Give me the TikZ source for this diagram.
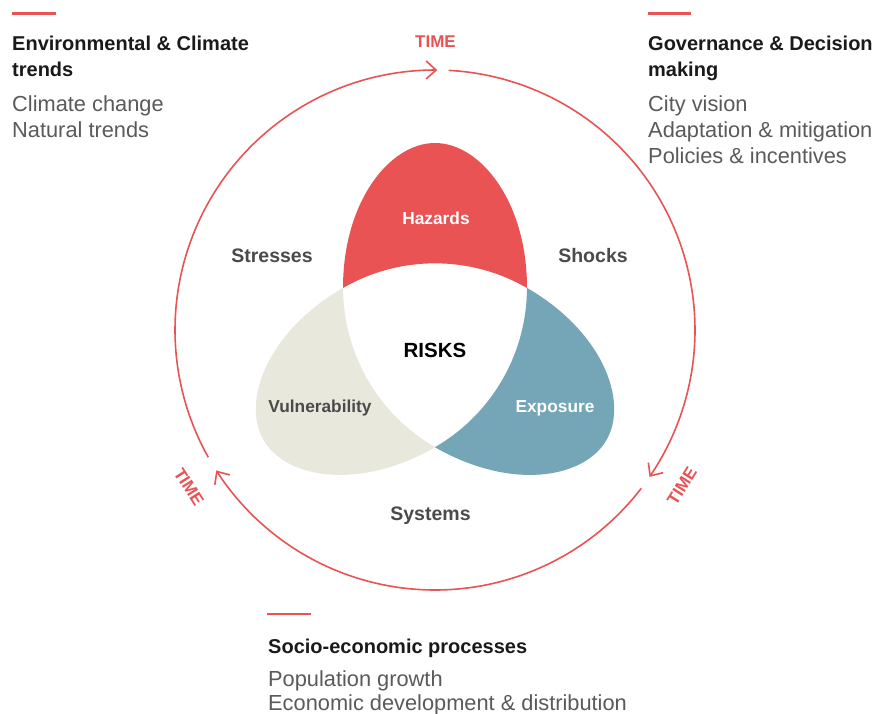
\documentclass[tikz,border=0pt]{standalone}
\usepackage{fontspec}
\setmainfont{Liberation Sans}
\usetikzlibrary{arrows.meta}
\definecolor{tred}{HTML}{E95354}
\definecolor{tbeige}{HTML}{E9E8DD}
\definecolor{tblue}{HTML}{74A6B7}
\definecolor{thead}{HTML}{1A1A1A}
\definecolor{tbody}{HTML}{5A5A5A}
\definecolor{tlabel}{HTML}{4A4A4A}
\begin{document}
\begin{tikzpicture}[x=1pt,y=-1pt,
  head/.style={anchor=base west, inner sep=0pt, font=\fontsize{20}{24}\selectfont\bfseries, text=thead},
  body/.style={anchor=base west, inner sep=0pt, font=\fontsize{21.8}{25}\selectfont, text=tbody},
  bar/.style={draw=tred, line width=2.6pt},
  ring/.style={draw=tred, line width=1.6pt, -{Straight Barb[length=10pt,width=18pt]}},
  zone/.style={anchor=base, inner sep=0pt, font=\fontsize{19.5}{23}\selectfont\bfseries, text=tlabel},
  petaltext/.style={anchor=base, inner sep=0pt, font=\fontsize{17.3}{20}\selectfont\bfseries},
  timelbl/.style={inner sep=0pt, font=\fontsize{17}{20}\selectfont\bfseries, text=tred}
]
\useasboundingbox[fill=white] (0,0) rectangle (885,713);

% petals
\begin{scope}[shift={(435,341)}]
  \fill[tred] (-92,-53) .. controls (-92,-140) and (-45,-198) .. (0,-198)
    .. controls (45,-198) and (92,-140) .. (92,-53)
    .. controls (35.2,-85.9) and (-35.2,-85.9) .. (-92,-53) -- cycle;
\end{scope}
\begin{scope}[shift={(435,341)}, rotate=120]
  \fill[tbeige] (-92,-53) .. controls (-92,-140) and (-45,-198) .. (0,-198)
    .. controls (45,-198) and (92,-140) .. (92,-53)
    .. controls (35.2,-85.9) and (-35.2,-85.9) .. (-92,-53) -- cycle;
\end{scope}
\begin{scope}[shift={(435,341)}, rotate=-120]
  \fill[tblue] (-92,-53) .. controls (-92,-140) and (-45,-198) .. (0,-198)
    .. controls (45,-198) and (92,-140) .. (92,-53)
    .. controls (35.2,-85.9) and (-35.2,-85.9) .. (-92,-53) -- cycle;
\end{scope}

% time ring
\draw[ring] plot[domain=-87:34.4, samples=150] ({435+260*cos(\x)}, {330+260*sin(\x)});
\draw[ring] plot[domain=37.5:147.3, samples=150] ({435+260*cos(\x)}, {330+260*sin(\x)});
\draw[ring] plot[domain=150.7:270.5, samples=150] ({435+260*cos(\x)}, {330+260*sin(\x)});

\node[timelbl, anchor=base] (time1) at (435.5,47) {TIME};
\node[timelbl, rotate=-57.5] (time2) at (189,487) {TIME};
\node[timelbl, rotate=57.7] (time3) at (682,486) {TIME};

% inner labels
\node[petaltext, text=white] (haz) at (436,224) {Hazards};
\node[petaltext, text=tlabel] (vul) at (320,412) {Vulnerability};
\node[petaltext, text=white] (exp) at (555,412) {Exposure};
\node[anchor=base, inner sep=0pt, font=\fontsize{20.5}{24}\selectfont\bfseries, text=black] (risk) at (435,357) {RISKS};

\node[zone] (str) at (272,262) {Stresses};
\node[zone] (sho) at (593,262) {Shocks};
\node[zone] (sys) at (430.5,520) {Systems};

% top-left block
\draw[bar] (12,13.7) -- (56,13.7);
\node[head] (envh1) at (12,50) {Environmental \& Climate};
\node[head] (envh2) at (12,76) {trends};
\node[body] (env1) at (12,111) {Climate change};
\node[body] (env2) at (12,137) {Natural trends};

% top-right block
\draw[bar] (648,13.7) -- (691,13.7);
\node[head] (govh1) at (648,50) {Governance \& Decision};
\node[head] (govh2) at (648,76) {making};
\node[body] (gov1) at (648,111) {City vision};
\node[body] (gov2) at (648,137) {Adaptation \& mitigation};
\node[body] (gov3) at (648,163) {Policies \& incentives};

% bottom block
\draw[bar] (267,613.8) -- (311,613.8);
\node[head] (soch) at (268,653) {Socio-economic processes};
\node[body] (soc1) at (268,686) {Population growth};
\node[body] (soc2) at (268,710) {Economic development \& distribution};
\end{tikzpicture}
\end{document}
